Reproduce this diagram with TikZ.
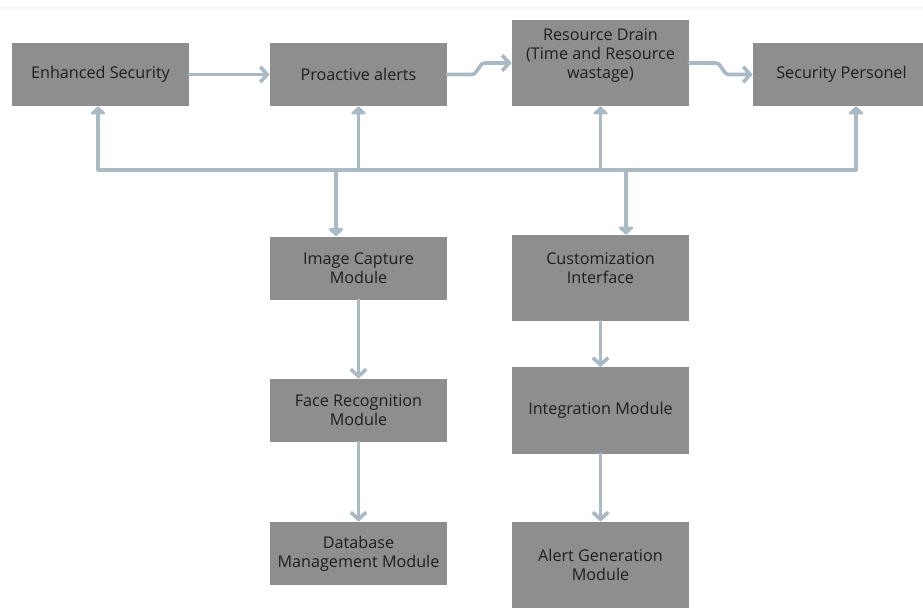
\documentclass[tikz,border=0pt]{standalone}
\usepackage{fontspec}
\setmainfont{Open Sans}
\usetikzlibrary{arrows.meta}

\definecolor{boxgray}{RGB}{142,142,142}
\definecolor{linkblue}{RGB}{170,186,196}
\definecolor{txtdark}{RGB}{30,30,30}

\begin{document}
\begin{tikzpicture}[
  x=0.025cm, y=-0.025cm,
  block/.style={fill=boxgray, minimum width=4.425cm, minimum height=1.575cm,
    inner sep=0pt, align=center, font=\fontsize{11.5}{13.6}\selectfont, text=txtdark},
  tall/.style={minimum height=2.15cm},
  arr/.style={-{Straight Barb[length=5pt, width=11pt]}, line width=2.6pt,
    linkblue, line join=round, line cap=round},
  busarr/.style={-{Triangle[length=6pt, width=12pt, round]}, line width=2.6pt,
    linkblue},
  bus/.style={line width=2.6pt, linkblue, line cap=round},
]
\useasboundingbox (0,0) rectangle (923,608);
\fill[gray!6] (0,7) rectangle (923,10);

% === Outcome row (top) ===
\node[block] (esec) at (100.5, 74.5) {Enhanced Security};
\node[block] (palert) at (358.5, 74.5) {Proactive alerts};
\node[block, tall] (rdrain) at (600.5, 63)
  {Resource Drain\\(Time and Resource\\wastage)\\\mbox{}};
\node[block] (spers) at (841.5, 74.5) {Security Personel};

\draw[arr] (esec) -- (palert);
\draw[arr] (palert.east) -- ++(24,0) to[out=0, in=180] ++(14,-11.5) -- (rdrain.west);
\draw[arr] (rdrain.east) -- ++(26,0) to[out=0, in=180] ++(14,11.5) -- (spers.west);

% === Left chain ===
\node[block] (imgcap) at (358.5, 268) {Image Capture\\Module};
\node[block] (facerec) at (358.5, 410.5) {Face Recognition\\Module};
\node[block] (dbm) at (358.5, 553.5) {Database\\Management Module};

\draw[arr] (imgcap) -- (facerec);
\draw[arr] (facerec) -- (dbm);

% === Right chain ===
\node[block, tall] (custom) at (600.5, 278) {Customization\\Interface\\\mbox{}};
\node[block, tall] (integ) at (600.5, 410.5) {Integration Module};
\node[block, tall] (alertgen) at (600.5, 565) {Alert Generation\\Module};

\draw[arr] (custom) -- (integ);
\draw[arr] (integ) -- (alertgen);

% === Shared bus ===
\coordinate (b1) at (98, 170);
\coordinate (b4) at (856, 170);
\coordinate (d1) at (336, 170);
\coordinate (d2) at (626, 170);

\draw[bus] (b1) -- (b4);
\draw[busarr] (b1) -- (b1 |- esec.south);
\draw[busarr] (palert.south |- b1) -- (palert.south);
\draw[busarr] (rdrain.south |- b1) -- (rdrain.south);
\draw[busarr] (b4) -- (b4 |- spers.south);
\draw[busarr] (d1) -- (d1 |- imgcap.north);
\draw[busarr] (d2) -- (d2 |- custom.north);

\end{tikzpicture}
\end{document}
